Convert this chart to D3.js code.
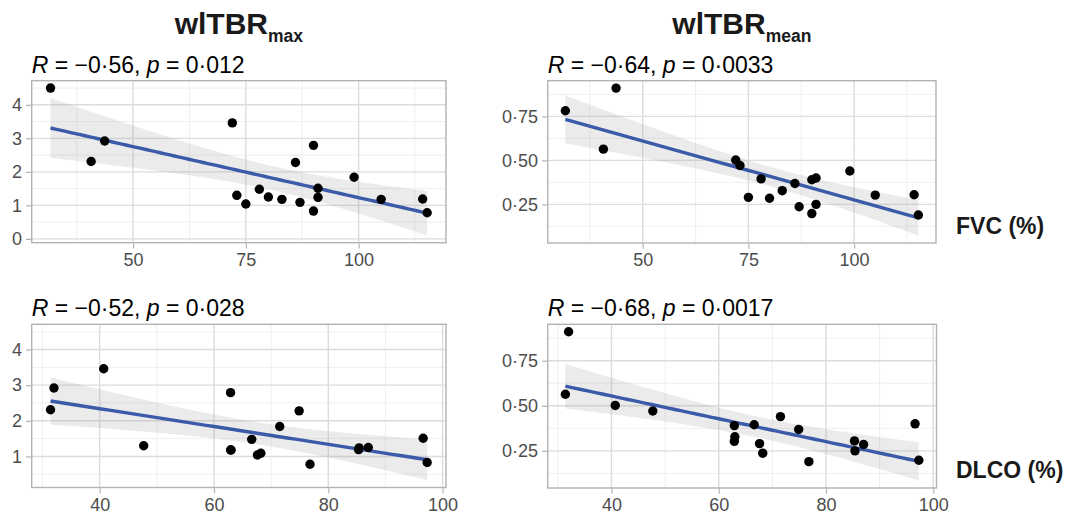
<!DOCTYPE html>
<html>
<head>
<meta charset="utf-8">
<script src="https://cdn.jsdelivr.net/npm/d3@7/dist/d3.min.js"></script>
<style>
  body { margin: 0; background: #fff; }
  svg text { font-family: "Liberation Sans", Arial, Helvetica, sans-serif; }
</style>
</head>
<body>
<svg id="chart" width="1069" height="518"></svg>
<script>
// one entry per patient; dlco is missing (null) for the first one
var fvc     = [31.7, 40.7, 43.7, 72.0, 73.0, 75.0, 78.0, 80.0, 83.0, 86.0, 87.0, 90.0, 90.0, 91.0, 91.0, 99.0, 105.0, 114.2, 115.2];
var dlco    = [null, 31.4, 32.0, 40.7, 47.7, 67.6, 66.6, 87.0, 63.0, 74.9, 68.2, 62.9, 97.3, 96.6, 85.4, 71.5, 62.9, 85.3, 76.8];
var tbrMax  = [4.50, 2.31, 2.92, 3.46, 1.30, 1.04, 1.48, 1.25, 1.18, 2.28, 1.09, 2.79, 0.83, 1.51, 1.24, 1.84, 1.18, 1.19, 0.78];
var tbrMean = [0.782, 0.564, 0.911, 0.502, 0.471, 0.290, 0.395, 0.285, 0.328, 0.369, 0.237, 0.390, 0.198, 0.400, 0.250, 0.440, 0.303, 0.305, 0.190];

var colTitles = [["wlTBR", "max"], ["wlTBR", "mean"]];
var rowTitles = ["FVC (%)", "DLCO (%)"];
var rLabels = ["\u22120\u00b756", "\u22120\u00b764", "\u22120\u00b752", "\u22120\u00b768"];
var pLabels = ["0\u00b7012", "0\u00b70033", "0\u00b7028", "0\u00b70017"];
var xTicksFvc  = [50, 75, 100];
var xTicksDlco = [40, 60, 80, 100];
var yTicksMax  = [0, 1, 2, 3, 4];
var yTicksMean = [0.25, 0.50, 0.75];

// 95% t quantiles for n-2 degrees of freedom (17 and 16)
var tq = {17: 2.1098, 16: 2.1199};

var svg = d3.select("#chart");

function fmt(v, dec){
	return v.toFixed(dec).replace(".", "\u00b7");
}

function lmFit(xs, ys){
	var n = xs.length;
	var mx = d3.mean(xs), my = d3.mean(ys);
	var sxx = d3.sum(xs, function(x){ return (x - mx) * (x - mx); });
	var sxy = d3.sum(xs, function(x, i){ return (x - mx) * (ys[i] - my); });
	var b = sxy / sxx, a = my - b * mx;
	var rss = d3.sum(xs, function(x, i){ var e = ys[i] - (a + b * x); return e * e; });
	var s = Math.sqrt(rss / (n - 2));
	var t = tq[n - 2];
	var ext = d3.extent(xs);
	var band = [];
	for (var k = 0; k < 80; k++){
		var x = ext[0] + (ext[1] - ext[0]) * k / 79;
		var yh = a + b * x;
		var se = s * Math.sqrt(1 / n + (x - mx) * (x - mx) / sxx);
		band.push({x: x, y: yh, lo: yh - t * se, hi: yh + t * se});
	}
	return band;
}

function pad(ext){
	var d = (ext[1] - ext[0]) * 0.05;
	return [ext[0] - d, ext[1] + d];
}

function inside(vals, dom){
	return vals.filter(function(v){ return v >= dom[0] && v <= dom[1]; });
}

function minorTicks(major, dom){
	var step = major[1] - major[0];
	var out = [major[0] - step / 2];
	major.forEach(function(m){ out.push(m + step / 2); });
	return inside(out, dom);
}

var panels = [
	{xs: fvc,  ys: tbrMax,  xt: xTicksFvc,  yt: yTicksMax,  dec: 0, box: [31.7, 446, 80.7, 242.7]},
	{xs: fvc,  ys: tbrMean, xt: xTicksFvc,  yt: yTicksMean, dec: 2, box: [547.7, 936, 80.7, 243]},
	{xs: dlco, ys: tbrMax,  xt: xTicksDlco, yt: yTicksMax,  dec: 0, box: [31.7, 446, 324.3, 487.5]},
	{xs: dlco, ys: tbrMean, xt: xTicksDlco, yt: yTicksMean, dec: 2, box: [547.7, 936.5, 324.3, 488]}
];

panels.forEach(function(p, pi){
	var pts = [];
	p.xs.forEach(function(x, i){ if (x !== null) pts.push({x: x, y: p.ys[i]}); });
	var band = lmFit(pts.map(function(d){ return d.x; }), pts.map(function(d){ return d.y; }));

	var xDom = pad(d3.extent(pts, function(d){ return d.x; }));
	// y scale is trained on every row, also the ones without an x value
	var yAll = p.ys.concat(band.map(function(d){ return d.lo; }), band.map(function(d){ return d.hi; }));
	var yDom = pad(d3.extent(yAll));

	var b = p.box;
	var x = d3.scaleLinear().domain(xDom).range([b[0], b[1]]);
	var y = d3.scaleLinear().domain(yDom).range([b[3], b[2]]);
	var xt = inside(p.xt, xDom), yt = inside(p.yt, yDom);

	var g = svg.append("g");

	// grid
	minorTicks(p.xt, xDom).forEach(function(v){
		g.append("line").attr("x1", x(v)).attr("x2", x(v)).attr("y1", b[2]).attr("y2", b[3])
			.attr("stroke", "#ebebeb").attr("stroke-width", 0.8);
	});
	minorTicks(p.yt, yDom).forEach(function(v){
		g.append("line").attr("y1", y(v)).attr("y2", y(v)).attr("x1", b[0]).attr("x2", b[1])
			.attr("stroke", "#ebebeb").attr("stroke-width", 0.8);
	});
	xt.forEach(function(v){
		g.append("line").attr("x1", x(v)).attr("x2", x(v)).attr("y1", b[2]).attr("y2", b[3])
			.attr("stroke", "#dcdcdc").attr("stroke-width", 1.4);
	});
	yt.forEach(function(v){
		g.append("line").attr("y1", y(v)).attr("y2", y(v)).attr("x1", b[0]).attr("x2", b[1])
			.attr("stroke", "#dcdcdc").attr("stroke-width", 1.4);
	});

	// ribbon + fit line
	g.append("path").datum(band)
		.attr("d", d3.area().x(function(d){ return x(d.x); }).y0(function(d){ return y(d.lo); }).y1(function(d){ return y(d.hi); }))
		.attr("fill", "#999999").attr("fill-opacity", 0.2);
	g.append("path").datum(band)
		.attr("d", d3.line().x(function(d){ return x(d.x); }).y(function(d){ return y(d.y); }))
		.attr("fill", "none").attr("stroke", "#3b5ba8").attr("stroke-width", 3.4);

	g.selectAll("circle.pt").data(pts).enter().append("circle")
		.attr("class", "pt")
		.attr("cx", function(d){ return x(d.x); })
		.attr("cy", function(d){ return y(d.y); })
		.attr("r", 4.7)
		.attr("fill", "#000");

	// border
	g.append("rect").attr("x", b[0]).attr("y", b[2]).attr("width", b[1] - b[0]).attr("height", b[3] - b[2])
		.attr("fill", "none").attr("stroke", "#b3b3b3").attr("stroke-width", 1.4);

	// axes
	var xAxis = d3.axisBottom(x).tickValues(xt).tickSize(5).tickPadding(5).tickFormat(function(v){ return v; });
	var yAxis = d3.axisLeft(y).tickValues(yt).tickSize(5).tickPadding(4).tickFormat(function(v){ return fmt(v, p.dec); });
	var ax = g.append("g").attr("transform", "translate(0," + (b[3] + 0.7) + ")").call(xAxis);
	var ay = g.append("g").attr("transform", "translate(" + (b[0] - 0.7) + ",0)").call(yAxis);
	[ax, ay].forEach(function(a){
		a.select(".domain").remove();
		a.selectAll(".tick line").attr("stroke", "#b3b3b3").attr("stroke-width", 1.2);
		a.selectAll(".tick text").attr("fill", "#4d4d4d").attr("font-size", 18)
			.attr("font-family", "Liberation Sans, Arial, sans-serif");
	});

	// correlation label
	var lab = g.append("text").attr("x", b[0]).attr("y", b[2] - 8).attr("font-size", 23).attr("fill", "#000");
	lab.append("tspan").attr("font-style", "italic").text("R");
	lab.append("tspan").text(" = " + rLabels[pi] + ", ");
	lab.append("tspan").attr("font-style", "italic").text("p");
	lab.append("tspan").text(" = " + pLabels[pi]);
});

// column titles
colTitles.forEach(function(t, i){
	var b = panels[i].box;
	var tt = svg.append("text").attr("x", (b[0] + b[1]) / 2).attr("y", 34)
		.attr("text-anchor", "middle").attr("font-weight", "bold").attr("fill", "#1a1a1a").attr("font-size", 30);
	tt.append("tspan").text(t[0]);
	tt.append("tspan").attr("font-size", 17.5).attr("dy", 8).text(t[1]);
});

// row titles
rowTitles.forEach(function(t, i){
	svg.append("text").attr("x", 956).attr("y", i === 0 ? 234 : 478)
		.attr("font-weight", "bold").attr("font-size", 23).attr("fill", "#1a1a1a").text(t);
});
</script>
</body>
</html>
